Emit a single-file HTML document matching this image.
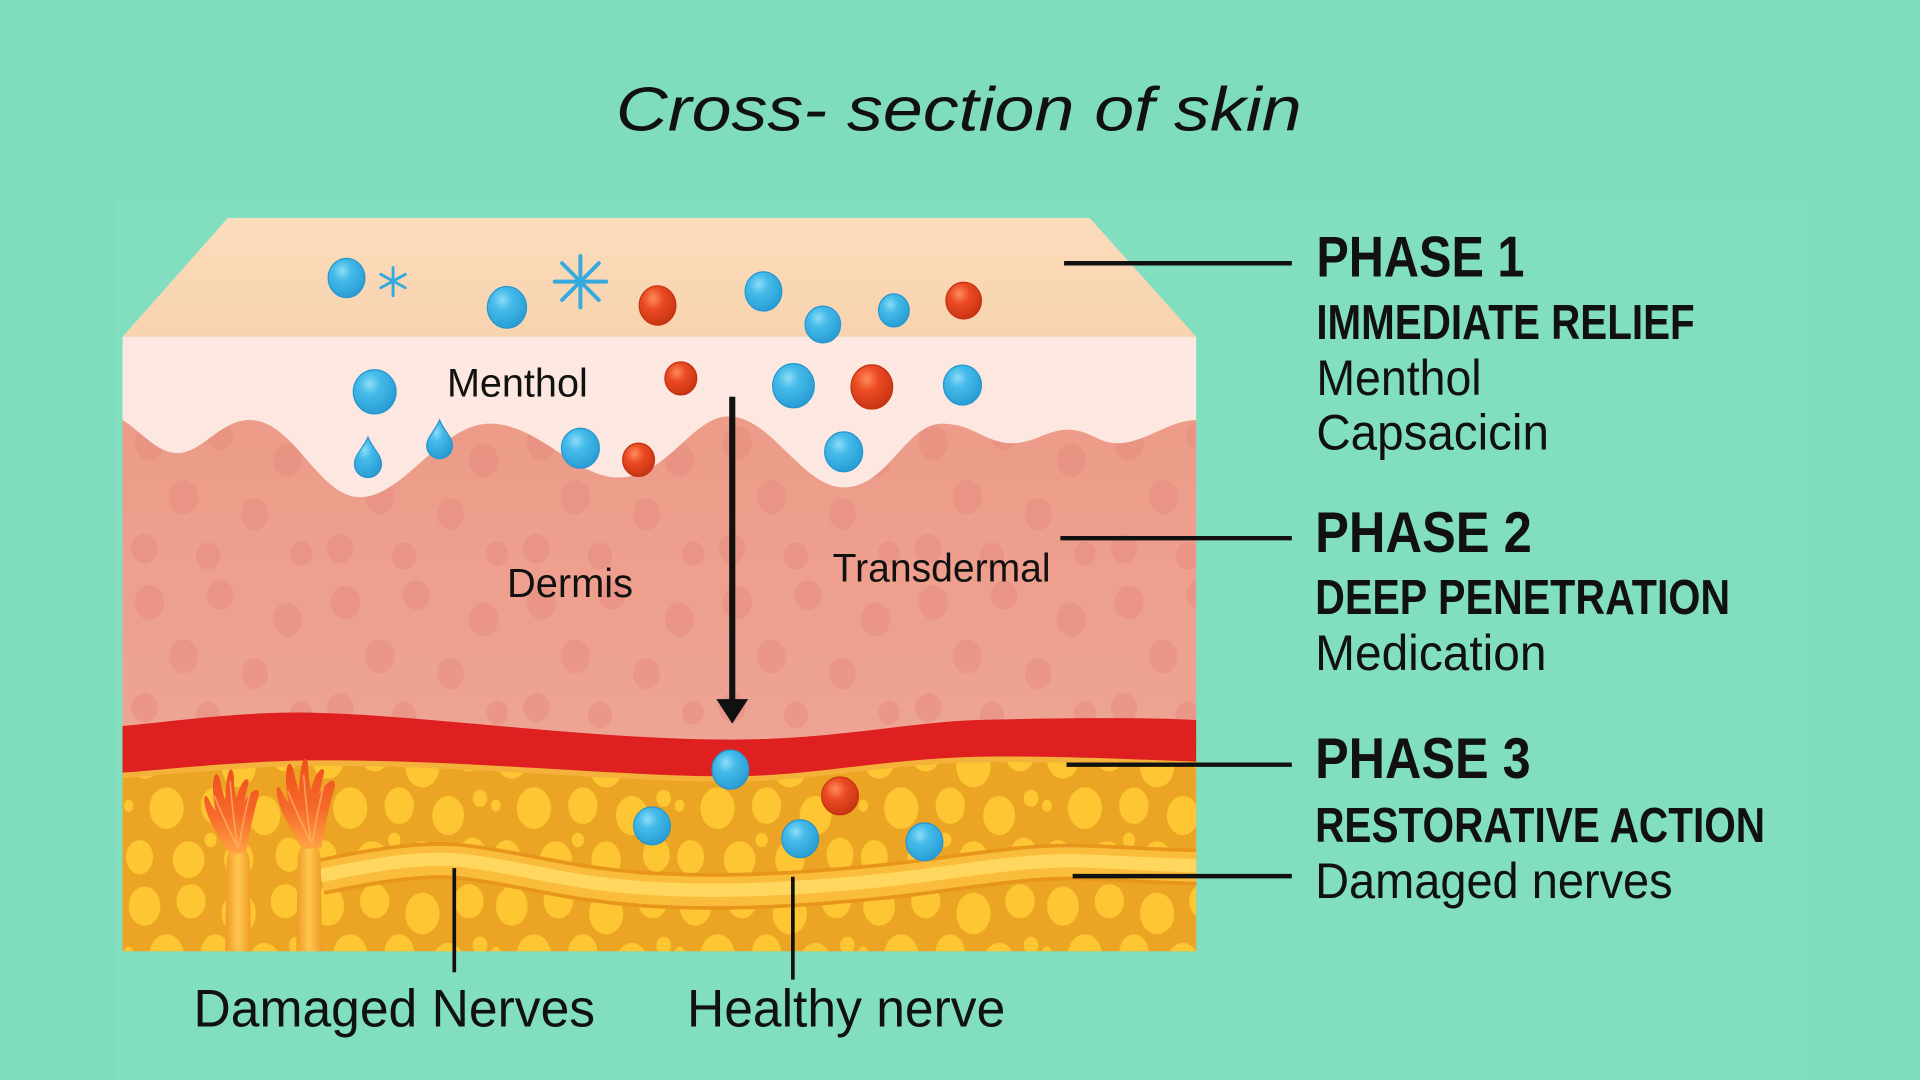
<!DOCTYPE html>
<html><head><meta charset="utf-8">
<style>
html,body{margin:0;padding:0;background:#7fddbd;overflow:hidden;}
svg{display:block;}
</style></head>
<body>
<svg width="1920" height="1080" viewBox="0 0 1568 882" xmlns="http://www.w3.org/2000/svg">
<defs>
 <radialGradient id="gb" cx="0.38" cy="0.32" r="0.72">
  <stop offset="0" stop-color="#8edcf7"/>
  <stop offset="0.35" stop-color="#45bbea"/>
  <stop offset="1" stop-color="#279bd3"/>
 </radialGradient>
 <radialGradient id="gr" cx="0.38" cy="0.32" r="0.72">
  <stop offset="0" stop-color="#ff8c5c"/>
  <stop offset="0.4" stop-color="#eb4a22"/>
  <stop offset="1" stop-color="#c63313"/>
 </radialGradient>
 <linearGradient id="gslab" x1="0" y1="0" x2="0" y2="1">
  <stop offset="0" stop-color="#fbdcbb"/><stop offset="1" stop-color="#f8d3af"/>
 </linearGradient>
 <linearGradient id="gder" x1="0" y1="0" x2="0" y2="1">
  <stop offset="0" stop-color="#ec9c88"/><stop offset="0.6" stop-color="#eea08f"/><stop offset="1" stop-color="#eea594"/>
 </linearGradient>
 <linearGradient id="gstalk" x1="0" y1="0" x2="1" y2="0">
  <stop offset="0" stop-color="#ee9a24"/><stop offset="0.5" stop-color="#ffc650"/><stop offset="1" stop-color="#ee9a24"/>
 </linearGradient>
 <linearGradient id="gflame" x1="0" y1="1" x2="0" y2="0">
  <stop offset="0" stop-color="#ffa343"/><stop offset="0.45" stop-color="#f6692a"/><stop offset="1" stop-color="#ef4f1b"/>
 </linearGradient>
 <pattern id="pd" patternUnits="userSpaceOnUse" x="100" y="340" width="160" height="130">
  <g fill="#e3857a" opacity="0.4">
   <ellipse cx="22" cy="22" rx="12" ry="14"/>
   <ellipse cx="80" cy="16" rx="11" ry="12"/>
   <ellipse cx="135" cy="36" rx="12" ry="14"/>
   <ellipse cx="50" cy="66" rx="12" ry="14"/>
   <ellipse cx="108" cy="80" rx="11" ry="13"/>
   <ellipse cx="18" cy="108" rx="11" ry="12"/>
   <ellipse cx="70" cy="114" rx="10" ry="11"/>
   <ellipse cx="146" cy="112" rx="9" ry="10"/>
  </g>
 </pattern>
 <pattern id="pf" patternUnits="userSpaceOnUse" x="100" y="600" width="150" height="120">
  <g fill="#fdc632">
   <ellipse cx="18" cy="20" rx="13" ry="16"/>
   <ellipse cx="56" cy="16" rx="12" ry="14"/>
   <ellipse cx="95" cy="26" rx="14" ry="17"/>
   <ellipse cx="133" cy="16" rx="12" ry="14"/>
   <ellipse cx="36" cy="60" rx="14" ry="17"/>
   <ellipse cx="76" cy="58" rx="12" ry="15"/>
   <ellipse cx="116" cy="66" rx="13" ry="16"/>
   <ellipse cx="14" cy="100" rx="11" ry="14"/>
   <ellipse cx="54" cy="102" rx="13" ry="15"/>
   <ellipse cx="95" cy="102" rx="12" ry="15"/>
   <ellipse cx="136" cy="98" rx="11" ry="14"/>
   <ellipse cx="72" cy="86" rx="5" ry="6"/>
   <ellipse cx="142" cy="52" rx="6" ry="7"/>
   <ellipse cx="5" cy="58" rx="4" ry="5"/>
  </g>
 </pattern>
 <clipPath id="cb"><polygon points="186,178 890,178 977,275 977,777 100,777 100,275"/></clipPath>
 <path id="flame" d="M187,697 C180,685 170,672 167,656 C166,650 168,648 170,652 C172,656 174,660 176,662 C174,652 173,640 175,634 C177,630 179,634 180,638 C181,644 183,650 184,654 C184,645 185,636 187,630 C189,626 191,630 191,636 C191,642 192,648 193,652 C195,645 197,640 200,637 C203,635 204,638 202,643 C201,648 200,652 199,656 C202,650 206,646 209,645 C212,645 212,649 210,654 C207,665 203,682 201,697 Z"/>
</defs>

<rect width="1568" height="882" fill="#7fddbd"/>
<rect x="95" y="161" width="1382" height="721" fill="#81dfbf"/>

<!-- Title -->
<text x="503" y="106.7" font-family="Liberation Sans, sans-serif" font-style="italic" font-size="51" fill="#111" textLength="560" lengthAdjust="spacingAndGlyphs">Cross- section of skin</text>

<g clip-path="url(#cb)">
 <polygon points="186,178 890,178 977,275 100,275" fill="url(#gslab)"/>
 <rect x="100" y="275" width="877" height="160" fill="#fce8e1"/>
 <rect x="100" y="600" width="877" height="177" fill="#eba423"/>
 <rect x="100" y="600" width="877" height="177" fill="url(#pf)"/>
 <path d="M100,343 C115,352 128,370 145,370 C165,370 180,343 204,343 C240,343 260,406 294,406 C330,406 360,346 400,346 C440,346 470,390 505,390 C545,390 565,340 595,340 C630,340 655,398 689,398 C725,398 740,346 769,346 C795,346 805,362 826,362 C845,362 855,351 872,351 C890,351 897,362 912,362 C935,362 955,343 977,343 L977,612 L100,612 Z" fill="url(#gder)"/>
 <path d="M100,343 C115,352 128,370 145,370 C165,370 180,343 204,343 C240,343 260,406 294,406 C330,406 360,346 400,346 C440,346 470,390 505,390 C545,390 565,340 595,340 C630,340 655,398 689,398 C725,398 740,346 769,346 C795,346 805,362 826,362 C845,362 855,351 872,351 C890,351 897,362 912,362 C935,362 955,343 977,343 L977,612 L100,612 Z" fill="url(#pd)"/>
 <path d="M977,624 C920,622 860,619 798,620 C720,622 660,636 597,636 C500,636 380,622 253,623 C190,624 140,630 100,633" fill="none" stroke="#f4b23a" stroke-width="5"/>
 <path d="M100,593 C150,588 200,581 253,582 C350,584 480,604 597,604 C680,604 740,590 798,588 C880,586 940,586 977,588 L977,622 C920,620 860,617 798,618 C720,620 660,634 597,634 C500,634 380,620 253,621 C190,622 140,628 100,631 Z" fill="#de2020"/>

 <g fill="none" stroke-linecap="butt">
  <path d="M262,716 C310,706 350,700 380,704 C430,710 470,724 540,727 C600,730 660,726 720,720 C780,714 830,703 880,704 C920,705 950,708 985,708" stroke="#e8951c" stroke-width="30"/>
  <path d="M262,716 C310,706 350,700 380,704 C430,710 470,724 540,727 C600,730 660,726 720,720 C780,714 830,703 880,704 C920,705 950,708 985,708" stroke="#f9bd3b" stroke-width="24"/>
  <path d="M262,715 C310,705 350,699 380,703 C430,709 470,723 540,726 C600,729 660,725 720,719 C780,713 830,702 880,703 C920,704 950,707 985,707" stroke="#ffd65e" stroke-width="11"/>
 </g>

 <path d="M184,777 L185,706 C185,699 187,695 189,693 L200,693 C202,695 204,699 204,706 L205,777 Z" fill="url(#gstalk)"/>
 <path d="M242,777 L243,704 C243,697 245,693 247,691 L258,691 C260,693 262,697 262,704 L263,777 Z" fill="url(#gstalk)"/>
 <use href="#flame" fill="url(#gflame)"/>
 <g transform="translate(255,693) scale(1.07) translate(-194,-697)"><use href="#flame" fill="url(#gflame)"/></g>
 <g fill="none" stroke="#ffb066" stroke-width="1.4" opacity="0.75">
  <path d="M194,692 Q184,672 175,650"/><path d="M194,692 Q190,665 188,638"/><path d="M195,692 Q199,668 204,648"/>
  <path d="M254,688 Q244,668 235,646"/><path d="M254,688 Q250,660 248,633"/><path d="M255,688 Q259,664 264,643"/>
 </g>
</g>

<g stroke-width="1">
 <ellipse cx="283" cy="227" rx="15" ry="16" fill="url(#gb)" stroke="#2596cf"/>
 <ellipse cx="414" cy="251" rx="16" ry="17" fill="url(#gb)" stroke="#2596cf"/>
 <ellipse cx="537" cy="249.5" rx="15" ry="16" fill="url(#gr)" stroke="#c23212"/>
 <ellipse cx="623.5" cy="238" rx="15" ry="16" fill="url(#gb)" stroke="#2596cf"/>
 <ellipse cx="672" cy="265" rx="14.5" ry="15" fill="url(#gb)" stroke="#2596cf"/>
 <ellipse cx="730" cy="253.5" rx="12.5" ry="13.5" fill="url(#gb)" stroke="#2596cf"/>
 <ellipse cx="787" cy="245.5" rx="14.5" ry="15" fill="url(#gr)" stroke="#c23212"/>
 <ellipse cx="306" cy="320" rx="17.5" ry="18" fill="url(#gb)" stroke="#2596cf"/>
 <ellipse cx="556" cy="309" rx="13" ry="13.5" fill="url(#gr)" stroke="#c23212"/>
 <ellipse cx="648" cy="315" rx="17" ry="18" fill="url(#gb)" stroke="#2596cf"/>
 <ellipse cx="712" cy="316" rx="17" ry="18" fill="url(#gr)" stroke="#c23212"/>
 <ellipse cx="786" cy="314.5" rx="15.5" ry="16.3" fill="url(#gb)" stroke="#2596cf"/>
 <ellipse cx="474" cy="366" rx="15.5" ry="16.3" fill="url(#gb)" stroke="#2596cf"/>
 <ellipse cx="521.5" cy="375.5" rx="13" ry="13.6" fill="url(#gr)" stroke="#c23212"/>
 <ellipse cx="689" cy="369" rx="15.5" ry="16.3" fill="url(#gb)" stroke="#2596cf"/>
 <ellipse cx="596.5" cy="628.5" rx="15" ry="16" fill="url(#gb)" stroke="#2596cf"/>
 <ellipse cx="686" cy="650" rx="15" ry="15.5" fill="url(#gr)" stroke="#c23212"/>
 <ellipse cx="532.5" cy="674.5" rx="15" ry="15.5" fill="url(#gb)" stroke="#2596cf"/>
 <ellipse cx="653.5" cy="685" rx="15" ry="15.5" fill="url(#gb)" stroke="#2596cf"/>
 <ellipse cx="755" cy="687.5" rx="15" ry="15.5" fill="url(#gb)" stroke="#2596cf"/>
</g>
<path d="M300.5,357 C304,366 311.5,371 311.5,379 A11,11 0 0 1 289.5,379 C289.5,371 297,366 300.5,357 Z" fill="url(#gb)" stroke="#2596cf" stroke-width="1"/>
<path d="M359,343 C362.5,352 369.5,357 369.5,364 A10.5,10.5 0 0 1 348.5,364 C348.5,357 355.5,352 359,343 Z" fill="url(#gb)" stroke="#2596cf" stroke-width="1"/>
<g stroke="#35aadf" stroke-linecap="round">
 <g stroke-width="2.4"><line x1="321" y1="218.5" x2="321" y2="241.5"/><line x1="311" y1="224" x2="331" y2="235"/><line x1="311" y1="235" x2="331" y2="224"/></g>
 <g stroke-width="3.2"><line x1="474" y1="209" x2="474" y2="251"/><line x1="453" y1="230" x2="495" y2="230"/><line x1="459" y1="215" x2="489" y2="245"/><line x1="459" y1="245" x2="489" y2="215"/></g>
</g>

<g font-family="Liberation Sans, sans-serif" fill="#111">
 <text x="365" y="324" font-size="32.5" textLength="115" lengthAdjust="spacingAndGlyphs">Menthol</text>
 <text x="414" y="487.6" font-size="33" textLength="103" lengthAdjust="spacingAndGlyphs">Dermis</text>
 <text x="680" y="475" font-size="32.5" textLength="178" lengthAdjust="spacingAndGlyphs">Transdermal</text>
</g>

<line x1="598" y1="324" x2="598" y2="575" stroke="#111" stroke-width="5"/>
<polygon points="585,571 611,571 598,591" fill="#111"/>

<g stroke="#111" stroke-width="3.6">
 <line x1="869" y1="215" x2="1055" y2="215"/>
 <line x1="866" y1="439.5" x2="1055" y2="439.5"/>
 <line x1="871" y1="624.5" x2="1055" y2="624.5"/>
 <line x1="876" y1="715.5" x2="1055" y2="715.5"/>
</g>
<g stroke="#111" stroke-width="3">
 <line x1="371" y1="709" x2="371" y2="794"/>
 <line x1="647.5" y1="716" x2="647.5" y2="800"/>
</g>

<g font-family="Liberation Sans, sans-serif" fill="#111">
 <text x="1075" y="226" font-size="47" font-weight="bold" textLength="170" lengthAdjust="spacingAndGlyphs">PHASE 1</text>
 <text x="1075" y="277" font-size="40" font-weight="bold" textLength="309" lengthAdjust="spacingAndGlyphs">IMMEDIATE RELIEF</text>
 <text x="1075" y="322.5" font-size="41" textLength="135" lengthAdjust="spacingAndGlyphs">Menthol</text>
 <text x="1075" y="367" font-size="41" textLength="190" lengthAdjust="spacingAndGlyphs">Capsacicin</text>

 <text x="1074" y="450.6" font-size="47" font-weight="bold" textLength="177" lengthAdjust="spacingAndGlyphs">PHASE 2</text>
 <text x="1074" y="501.4" font-size="40" font-weight="bold" textLength="339" lengthAdjust="spacingAndGlyphs">DEEP PENETRATION</text>
 <text x="1074" y="547" font-size="41" textLength="189" lengthAdjust="spacingAndGlyphs">Medication</text>

 <text x="1074" y="635.5" font-size="47" font-weight="bold" textLength="176" lengthAdjust="spacingAndGlyphs">PHASE 3</text>
 <text x="1074" y="687.7" font-size="40" font-weight="bold" textLength="367.5" lengthAdjust="spacingAndGlyphs">RESTORATIVE ACTION</text>
 <text x="1074" y="733.5" font-size="41" textLength="292" lengthAdjust="spacingAndGlyphs">Damaged nerves</text>

 <text x="158" y="838.5" font-size="43" textLength="328" lengthAdjust="spacingAndGlyphs">Damaged Nerves</text>
 <text x="561" y="838.5" font-size="43" textLength="260" lengthAdjust="spacingAndGlyphs">Healthy nerve</text>
</g>
</svg>
</body></html>
